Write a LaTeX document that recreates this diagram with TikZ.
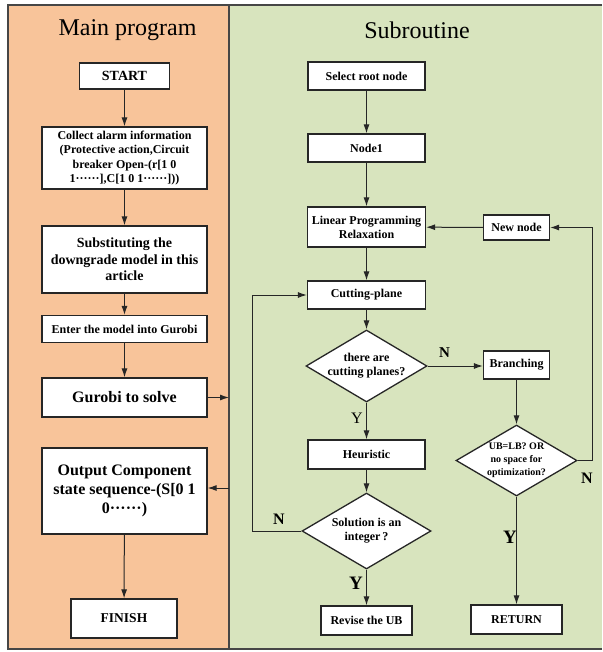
\documentclass[tikz,border=0pt]{standalone}
\usepackage{fontspec}
\setmainfont{Liberation Serif}
\usetikzlibrary{arrows.meta,shapes.geometric}

\definecolor{mainfill}{RGB}{248,196,154}
\definecolor{subfill}{RGB}{216,228,190}
\definecolor{framegray}{RGB}{70,70,70}

\begin{document}
\begin{tikzpicture}[x=1pt,y=-1pt,
        box/.style={draw=black!85, line width=1.3pt, fill=white, align=center, inner sep=0pt,
            font=\bfseries\fontsize{12}{14}\selectfont},
        dia/.style={box, diamond, aspect=1.7},
        flow/.style={draw=black!85, line width=1pt, -{Latex[length=9pt,width=6pt]}},
        lbl/.style={font=\bfseries\fontsize{16}{16}\selectfont},
        title/.style={font=\fontsize{24}{24}\selectfont}]

            \useasboundingbox (0,0) rectangle (602,652);
            \fill[mainfill] (8,5) rectangle (229,649);
            \fill[subfill] (229,5) rectangle (602,649);
            \draw[framegray, line width=1.2pt] (602,5) -- (8,5) -- (8,649) -- (602,649);
            \draw[framegray, line width=1.2pt] (229,5) -- (229,649);

            \node[title] (maintitle) at (127.5,30) {Main program};
            \node[title] (subtitle) at (417,30) {Subroutine};

            % main program
            \node[box, minimum width=90pt, minimum height=26pt, font=\bfseries\fontsize{14}{16}\selectfont] (start) at (124.5,76) {START};
            \node[box, minimum width=165pt, minimum height=62pt, font=\bfseries\fontsize{12}{14.5}\selectfont] (collect) at (124.5,158)
                {Collect alarm information\\(Protective action,Circuit\\breaker Open-(r[1 0\\1······],C[1 0 1······]))};
            \node[box, minimum width=165pt, minimum height=67pt, font=\bfseries\fontsize{14}{16.5}\selectfont] (subst) at (124.5,259.5)
                {Substituting the\\downgrade model in this\\article};
            \node[box, minimum width=165pt, minimum height=27pt] (enter) at (124.5,329) {Enter the model into Gurobi};
            \node[box, minimum width=165pt, minimum height=39pt, font=\bfseries\fontsize{16}{18}\selectfont] (gurobi) at (124.5,397.5) {Gurobi to solve};
            \node[box, minimum width=165pt, minimum height=86pt, font=\bfseries\fontsize{16}{19}\selectfont] (output) at (124.5,491)
                {Output Component\\state sequence-(S[0 1\\0······)};
            \node[box, minimum width=106pt, minimum height=39pt, font=\bfseries\fontsize{13.5}{16}\selectfont] (finish) at (124,618.5) {FINISH};

            \coordinate (subin) at (229,397.5);
            \coordinate (subout) at (229,488);

            \draw[flow] (start) -- (collect);
            \draw[flow] (collect) -- (subst);
            \draw[flow] (subst) -- (enter);
            \draw[flow] (enter) -- (gurobi);
            \draw[flow] (gurobi.east) -- (subin);
            \draw[flow] (subout) -- (subout -| output.east);
            \draw[flow] (output) -- (finish);

            % subroutine
            \node[box, minimum width=117pt, minimum height=28pt] (root) at (366.5,76) {Select root node};
            \node[box, minimum width=117pt, minimum height=28pt] (node1) at (366.5,148) {Node1};
            \node[box, minimum width=118pt, minimum height=40pt] (lp) at (366.5,227) {Linear Programming\\Relaxation};
            \node[box, minimum width=66pt, minimum height=25pt] (newnode) at (516.5,227.5) {New node};
            \node[box, minimum width=118pt, minimum height=28pt] (cut) at (366.5,295) {Cutting-plane};
            \node[dia, minimum width=121pt, minimum height=72pt] (dia1) at (366.5,366) {there are\\cutting planes?};
            \node[box, minimum width=66pt, minimum height=28pt] (branch) at (516.5,365) {Branching};
            \node[box, minimum width=117pt, minimum height=29pt] (heur) at (366.5,454.5) {Heuristic};
            \node[dia, minimum width=121pt, minimum height=71pt, font=\bfseries\fontsize{10}{13}\selectfont] (dia2) at (516.5,460.5)
                {UB=LB? OR\\no space for\\optimization?};
            \node[dia, minimum width=129pt, minimum height=76pt] (dia3) at (366.5,531) {Solution is an\\integer\,?};
            \node[box, minimum width=91pt, minimum height=29pt] (revise) at (366.5,620.5) {Revise the UB};
            \node[box, minimum width=91pt, minimum height=29pt] (ret) at (516.5,619.5) {RETURN};

            \node[lbl, font=\bfseries\fontsize{15}{15}\selectfont] (n1) at (444.5,353) {N};
            \node[font=\fontsize{16}{16}\selectfont] (y1) at (357,418) {Y};
            \node[lbl, font=\bfseries\fontsize{19}{19}\selectfont] (y3) at (356,583) {Y};
            \node[lbl] (n3) at (279,519) {N};
            \node[lbl, font=\bfseries\fontsize{19}{19}\selectfont] (y2) at (510,537) {Y};
            \node[lbl] (n2) at (587,478) {N};

            \draw[flow] (root) -- (node1);
            \draw[flow] (node1) -- (lp);
            \draw[flow] (lp) -- (cut);
            \draw[flow] (cut) -- (dia1);
            \draw[flow] (dia1.east) -- (dia1.east -| branch.west);
            \draw[flow] (dia1) -- (heur);
            \draw[flow] (heur) -- (dia3);
            \draw[flow] (dia3) -- (revise);
            \draw[flow] (dia3.west) -- ++(-49,0) |- (cut.west);
            \draw[flow] (branch) -- (dia2);
            \draw[flow] (dia2) -- (ret);
            \draw[flow] (dia2.east) -- ++(15,0) |- (newnode.east);
            \draw[flow] (newnode) -- (lp);
        \end{tikzpicture}
\end{document}
